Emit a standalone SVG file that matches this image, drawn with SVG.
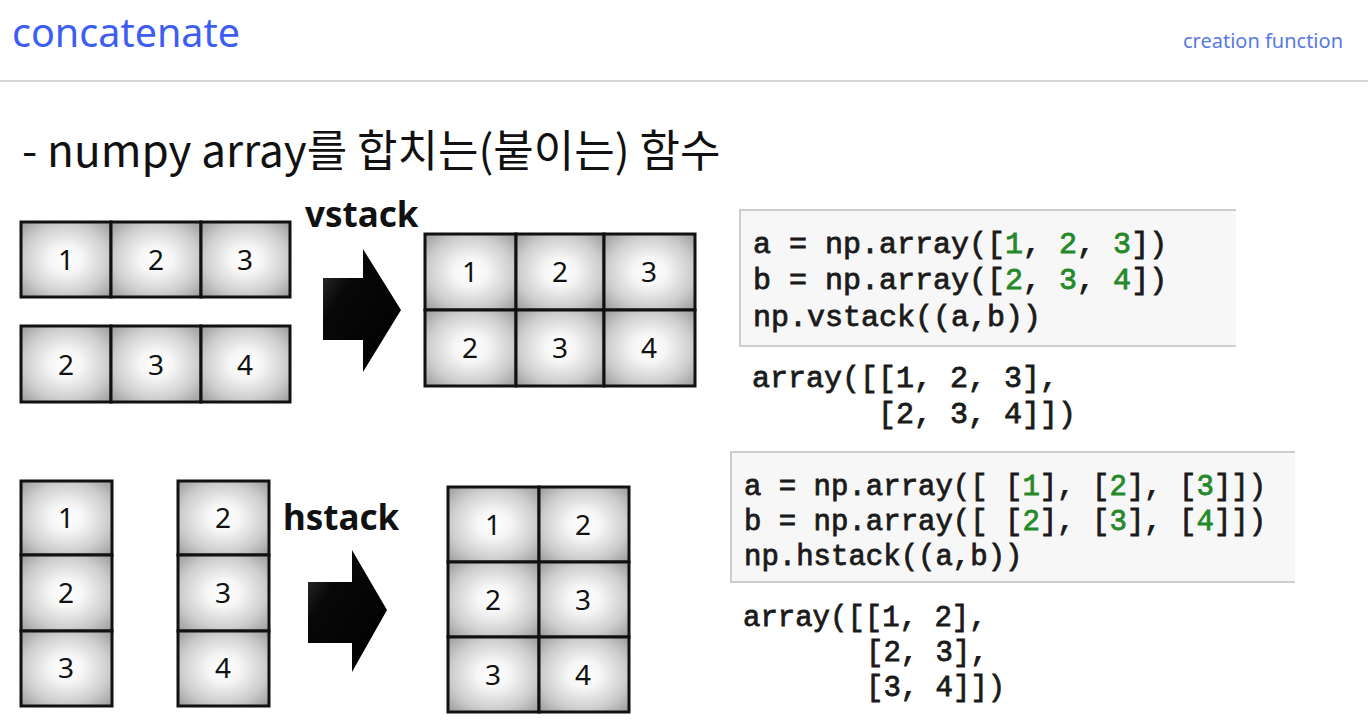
<svg xmlns="http://www.w3.org/2000/svg" width="1368" height="723" viewBox="0 0 1368 723">
<defs>
<radialGradient id="cellg" cx="0.5" cy="0.5" r="0.72">
<stop offset="0" stop-color="#ffffff"/>
<stop offset="0.25" stop-color="#f6f6f6"/>
<stop offset="0.65" stop-color="#cdcdcd"/>
<stop offset="1" stop-color="#969696"/>
</radialGradient>
<linearGradient id="arrg" x1="0" y1="0" x2="1" y2="1">
<stop offset="0" stop-color="#3a3a3a"/>
<stop offset="0.3" stop-color="#080808"/>
<stop offset="1" stop-color="#000000"/>
</linearGradient>
</defs>
<style>
.cell{fill:url(#cellg);stroke:#111;stroke-width:3}
.num{font-family:"Noto Sans","DejaVu Sans",sans-serif;font-size:28px;fill:#111;text-anchor:middle}
.lbl{font-family:"Noto Sans","DejaVu Sans",sans-serif;font-size:35px;font-weight:bold;fill:#111}
.code{font-family:"Liberation Mono","DejaVu Sans Mono",monospace;fill:#1a1a1a;stroke:#1a1a1a;stroke-width:0.8}
.g{fill:#25892a;stroke:#25892a}
.box{fill:#f7f7f7}
.boxb{fill:none;stroke:#cdcdcd;stroke-width:2}
.arrow{fill:url(#arrg)}
</style>
<rect width="1368" height="723" fill="#ffffff"/>
<g id="header">
<text x="12" y="47" font-family="Noto Sans, sans-serif" font-size="39.5" fill="#3d5ef0">concatenate</text>
<text x="1343" y="48" font-family="Noto Sans, sans-serif" font-size="20" fill="#5a78e6" text-anchor="end">creation function</text>
<line x1="0" y1="81" x2="1368" y2="81" stroke="#c6c6c6" stroke-width="1.5"/>
</g>
<g id="subtitle">
<text x="22" y="167" font-family="Noto Sans CJK KR, Noto Sans, sans-serif" font-size="44" fill="#111">- numpy array를 합치는(붙이는) 함수</text>
</g>
<g id="vstack-a">
<rect class="cell" x="21" y="222" width="90" height="75"/>
<rect class="cell" x="111" y="222" width="90" height="75"/>
<rect class="cell" x="201" y="222" width="89" height="75"/>
<text class="num" x="66" y="270">1</text>
<text class="num" x="156" y="270">2</text>
<text class="num" x="245" y="270">3</text>
</g>
<g id="vstack-b">
<rect class="cell" x="21" y="326" width="90" height="76"/>
<rect class="cell" x="111" y="326" width="90" height="76"/>
<rect class="cell" x="201" y="326" width="89" height="76"/>
<text class="num" x="66" y="375">2</text>
<text class="num" x="156" y="375">3</text>
<text class="num" x="245" y="375">4</text>
</g>
<g id="vstack-label"><text class="lbl" x="305" y="227">vstack</text></g>
<g id="vstack-result">
<rect class="cell" x="425" y="234" width="91" height="76"/>
<rect class="cell" x="516" y="234" width="88" height="76"/>
<rect class="cell" x="604" y="234" width="91" height="76"/>
<rect class="cell" x="425" y="310" width="91" height="76"/>
<rect class="cell" x="516" y="310" width="88" height="76"/>
<rect class="cell" x="604" y="310" width="91" height="76"/>
<text class="num" x="470" y="282">1</text>
<text class="num" x="560" y="282">2</text>
<text class="num" x="649" y="282">3</text>
<text class="num" x="470" y="358">2</text>
<text class="num" x="560" y="358">3</text>
<text class="num" x="649" y="358">4</text>
</g>
<g id="hstack-a">
<rect class="cell" x="21" y="481" width="91" height="74"/>
<rect class="cell" x="21" y="555" width="91" height="76"/>
<rect class="cell" x="21" y="631" width="91" height="75"/>
<text class="num" x="66" y="528">1</text>
<text class="num" x="66" y="603">2</text>
<text class="num" x="66" y="678">3</text>
</g>
<g id="hstack-b">
<rect class="cell" x="178" y="481" width="91" height="74"/>
<rect class="cell" x="178" y="555" width="91" height="76"/>
<rect class="cell" x="178" y="631" width="91" height="75"/>
<text class="num" x="223" y="528">2</text>
<text class="num" x="223" y="603">3</text>
<text class="num" x="223" y="678">4</text>
</g>
<g id="hstack-label"><text class="lbl" x="283" y="530">hstack</text></g>
<g id="hstack-result">
<rect class="cell" x="448" y="487" width="91" height="75"/>
<rect class="cell" x="539" y="487" width="90" height="75"/>
<rect class="cell" x="448" y="562" width="91" height="75"/>
<rect class="cell" x="539" y="562" width="90" height="75"/>
<rect class="cell" x="448" y="637" width="91" height="75"/>
<rect class="cell" x="539" y="637" width="90" height="75"/>
<text class="num" x="493" y="535">1</text>
<text class="num" x="583" y="535">2</text>
<text class="num" x="493" y="610">2</text>
<text class="num" x="583" y="610">3</text>
<text class="num" x="493" y="685">3</text>
<text class="num" x="583" y="685">4</text>
</g>
<g id="connectors">
<polygon class="arrow" points="323,278 363,278 363,249 401,310 363,372 363,340 323,340"/>
<polygon class="arrow" points="308,582 352,582 352,550 387,610 352,672 352,643 308,643"/>
</g>
<g id="code-vstack">
<rect class="box" x="740" y="210" width="496" height="136"/>
<path class="boxb" d="M1236,210 H740 V346 H1236"/>
<text class="code" font-size="30" xml:space="preserve"><tspan x="753" y="253">a = np.array([<tspan class="g">1</tspan>, <tspan class="g">2</tspan>, <tspan class="g">3</tspan>])</tspan><tspan x="753" y="289">b = np.array([<tspan class="g">2</tspan>, <tspan class="g">3</tspan>, <tspan class="g">4</tspan>])</tspan><tspan x="753" y="326">np.vstack((a,b))</tspan></text>
</g>
<g id="output-vstack">
<text class="code" font-size="30" xml:space="preserve"><tspan x="752" y="387">array([[1, 2, 3],</tspan><tspan x="878" y="423">[2, 3, 4]])</tspan></text>
</g>
<g id="code-hstack">
<rect class="box" x="731" y="452" width="564" height="130"/>
<path class="boxb" d="M1295,452 H731 V582 H1295"/>
<text class="code" font-size="29" xml:space="preserve"><tspan x="744" y="495">a = np.array([ [<tspan class="g">1</tspan>], [<tspan class="g">2</tspan>], [<tspan class="g">3</tspan>]])</tspan><tspan x="744" y="530">b = np.array([ [<tspan class="g">2</tspan>], [<tspan class="g">3</tspan>], [<tspan class="g">4</tspan>]])</tspan><tspan x="744" y="565">np.hstack((a,b))</tspan></text>
</g>
<g id="output-hstack">
<text class="code" font-size="29" xml:space="preserve"><tspan x="743" y="626">array([[1, 2],</tspan><tspan x="866" y="661">[2, 3],</tspan><tspan x="866" y="696">[3, 4]])</tspan></text>
</g>
</svg>
